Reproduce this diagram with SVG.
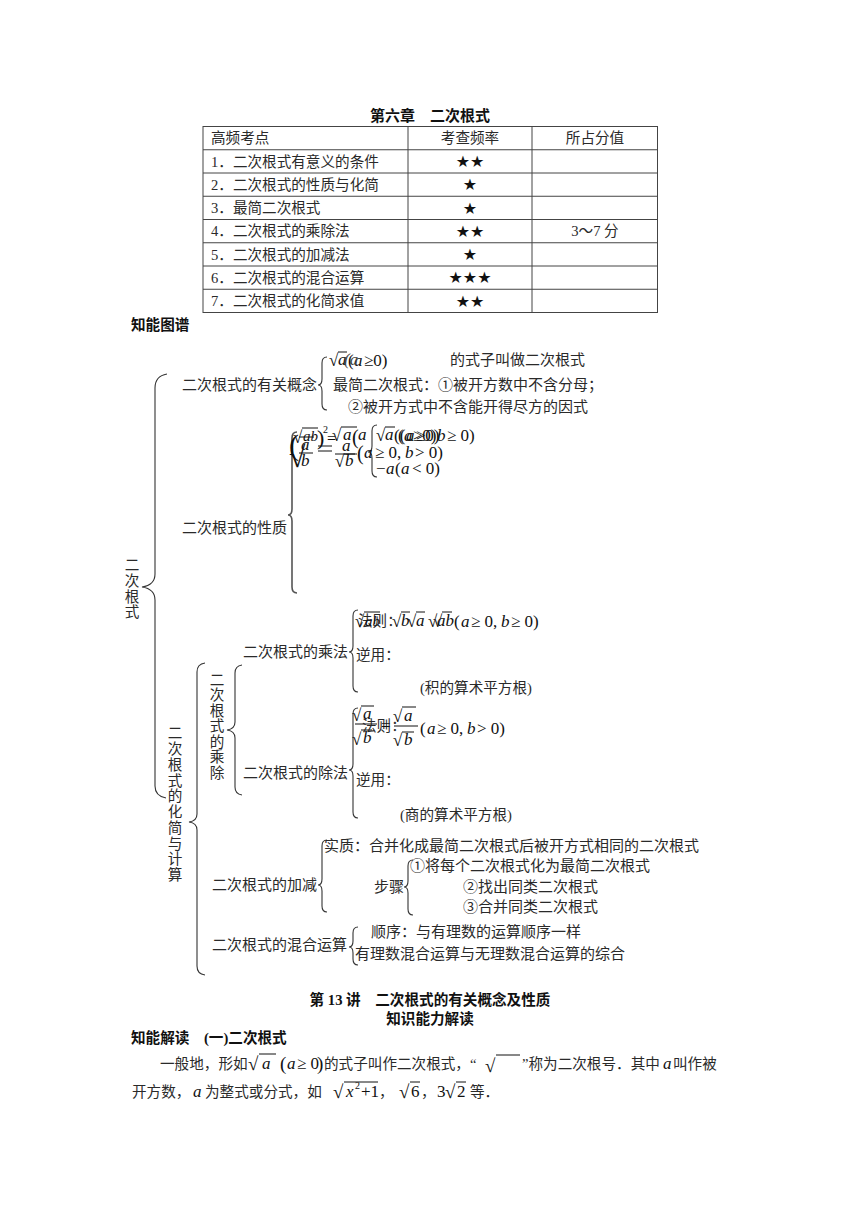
<svg xmlns="http://www.w3.org/2000/svg" width="860" height="1216" viewBox="0 0 860 1216">
<style>
.t{font-family:"Liberation Serif","Noto Sans CJK SC",serif;font-size:14.6px;fill:#2a2a2a}
.c{text-anchor:middle}
.h{font-family:"Liberation Serif","Noto Sans CJK SC",sans-serif;font-size:14.6px;font-weight:bold;fill:#111}
.m{font-family:"Liberation Serif",serif;font-style:italic;font-size:17px;fill:#111}
.n{font-family:"Liberation Serif",serif;font-size:17px;fill:#111}
.s{font-family:"Liberation Serif","DejaVu Sans",serif;font-size:17px;fill:#111}
.star{font-family:"DejaVu Sans","Noto Sans CJK SC",sans-serif;font-size:16px;fill:#111;text-anchor:middle}
.br{fill:none;stroke:#333;stroke-width:1.1}
.bb{fill:none;stroke:#555;stroke-width:1.6}
.ov{stroke:#111;stroke-width:1}
.tl{stroke:#444;stroke-width:1;fill:none}
</style>
<rect width="860" height="1216" fill="#fff"/>

<g id="title"><text class="h c" x="430" y="121" style="font-size:15px">第六章　二次根式</text></g>

<g id="table">
<rect class="tl" x="203" y="126.5" width="454.5" height="186"/>
<g class="tl">
<line x1="203" y1="149.75" x2="657.5" y2="149.75"/>
<line x1="203" y1="173" x2="657.5" y2="173"/>
<line x1="203" y1="196.25" x2="657.5" y2="196.25"/>
<line x1="203" y1="219.5" x2="657.5" y2="219.5"/>
<line x1="203" y1="242.75" x2="657.5" y2="242.75"/>
<line x1="203" y1="266" x2="657.5" y2="266"/>
<line x1="203" y1="289.25" x2="657.5" y2="289.25"/>
<line x1="408" y1="126.5" x2="408" y2="312.5"/>
<line x1="532" y1="126.5" x2="532" y2="312.5"/>
</g>
<text class="t" x="211" y="143">高频考点</text>
<text class="t c" x="470" y="143">考查频率</text>
<text class="t c" x="595" y="143">所占分值</text>
<text class="t" x="211" y="166.5">1．二次根式有意义的条件</text>
<text class="t" x="211" y="189.7">2．二次根式的性质与化简</text>
<text class="t" x="211" y="213">3．最简二次根式</text>
<text class="t" x="211" y="236.2">4．二次根式的乘除法</text>
<text class="t" x="211" y="259.5">5．二次根式的加减法</text>
<text class="t" x="211" y="282.7">6．二次根式的混合运算</text>
<text class="t" x="211" y="306">7．二次根式的化简求值</text>
<text class="star" x="470" y="167">★★</text>
<text class="star" x="470" y="190.2">★</text>
<text class="star" x="470" y="213.5">★</text>
<text class="star" x="470" y="236.7">★★</text>
<text class="star" x="470" y="260">★</text>
<text class="star" x="470" y="283.2">★★★</text>
<text class="star" x="470" y="306.5">★★</text>
<text class="t c" x="595" y="236.2">3～7 分</text>
</g>

<g id="map-heading"><text class="h" x="131" y="330">知能图谱</text></g>

<g id="connectors">
<path class="br" d="M167,374 Q155,376 155,388 L155,574 Q155,585 142,587 Q155,589 155,600 L155,786 Q155,796 166,798"/>
<path class="br" d="M327,357 Q322,357 322,363 L322,379 Q322,385 318,385 Q322,385 322,391 L322,404 Q322,410 327,410"/>
<path class="bb" d="M297,432 Q292,432 292,438 L292,509 Q292,515 288,515 Q292,515 292,521 L292,587 Q292,593 297,593"/>
<path class="br" d="M377,425 Q372,425 372,431 L372,446 Q372,452 368,452 Q372,452 372,458 L372,471 Q372,477 377,477"/>
<path class="br" d="M205,663 Q197,664 197,672 L197,814 Q197,821 189,822 Q197,823 197,830 L197,966 Q197,974 205,975"/>
<path class="br" d="M242,665 Q235,666 235,673 L235,722 Q235,729 227,730 Q235,731 235,738 L235,787 Q235,794 242,795"/>
<path class="br" d="M358,610 Q353,610 353,616 L353,646 Q353,652 349,652 Q353,652 353,658 L353,686 Q353,692 358,692"/>
<path class="br" d="M358,708 Q353,708 353,714 L353,764 Q353,770 349,770 Q353,770 353,776 L353,812 Q353,818 358,818"/>
<path class="br" d="M327,840 Q322,840 322,846 L322,879 Q322,885 318,885 Q322,885 322,891 L322,906 Q322,912 327,912"/>
<path class="br" d="M413,860 Q408,860 408,866 L408,881 Q408,887 404,887 Q408,887 408,893 L408,909 Q408,915 413,915"/>
<path class="br" d="M358,927 Q353,927 353,933 L353,941 Q353,947 349,947 Q353,947 353,953 L353,959 Q353,965 358,965"/>
</g>

<g id="root">
<text class="t c" x="132" y="570">二</text>
<text class="t c" x="132" y="586">次</text>
<text class="t c" x="132" y="602">根</text>
<text class="t c" x="132" y="617">式</text>
</g>

<g id="concept">
<text class="t" x="182" y="390" style="font-size:15px">二次根式的有关概念</text>
<text class="s" x="329" y="366">√</text>
<line class="ov" x1="338" y1="352" x2="347" y2="352"/>
<text class="m" x="338" y="365">a</text>
<text class="n" x="348" y="366">(</text>
<text class="m" x="354" y="366">a</text>
<text class="n" x="364" y="366">≥0)</text>
<text class="m" x="344" y="365" style="fill:#444">(a</text>
<text class="t" x="450" y="365" style="font-size:15px">的式子叫做二次根式</text>
<text class="t" x="333" y="390" style="font-size:15px">最简二次根式：①被开方数中不含分母；</text>
<text class="t" x="348" y="412" style="font-size:15px">②被开方式中不含能开得尽方的因式</text>
</g>

<g id="property">
<text class="t" x="182" y="533" style="font-size:15px">二次根式的性质</text>
<text class="n" x="289" y="455" style="font-size:30px">(</text>
<text class="s" x="293" y="443">√</text>
<line class="ov" x1="302" y1="428" x2="318" y2="428"/>
<text class="m" x="303" y="441" style="font-size:15px">ab</text>
<text class="n" x="317" y="445" style="font-size:22px">)</text>
<text class="n" x="323" y="433" style="font-size:10px">2</text>
<text class="n" x="327" y="444" style="font-size:16px">=</text>
<text class="s" x="332" y="441">√</text>
<line class="ov" x1="341" y1="427" x2="357" y2="427"/>
<text class="m" x="343" y="440">a</text>
<text class="n" x="352" y="444" style="font-size:20px">(</text>
<text class="m" x="358" y="440">a</text>
<text class="s" x="289" y="467" style="font-size:30px">√</text>
<line class="ov" x1="299" y1="437" x2="314" y2="437"/>
<text class="m" x="301" y="450">a</text>
<line class="ov" x1="299" y1="453" x2="313" y2="453"/>
<text class="m" x="301" y="466">b</text>
<line class="ov" x1="318" y1="446" x2="332" y2="446"/>
<line class="ov" x1="318" y1="451" x2="332" y2="451"/>
<text class="m" x="342" y="451">a</text>
<line class="ov" x1="335" y1="454" x2="357" y2="454"/>
<text class="s" x="335" y="467">√</text>
<line class="ov" x1="344" y1="454" x2="355" y2="454"/>
<text class="m" x="345" y="466">b</text>
<text class="n" x="357" y="460" style="font-size:20px">(</text>
<text class="m" x="364" y="458">a</text>
<text class="s" x="376" y="441">√</text>
<line class="ov" x1="385" y1="427" x2="395" y2="427"/>
<text class="m" x="385" y="440">a</text>
<text class="n" x="394" y="441">((</text>
<text class="m" x="404" y="441">a</text>
<text class="n" x="413" y="441">≥0)</text>
<text class="n" x="398" y="441">(</text>
<text class="m" x="406" y="441">a</text>
<text class="n" x="416" y="441">≥0)</text>
<text class="m" x="437" y="441">b</text>
<text class="n" x="447" y="441">≥ 0)</text>
<text class="n" x="375" y="458">≥ 0,</text>
<text class="m" x="405" y="458">b</text>
<text class="n" x="415" y="458">&gt; 0)</text>
<text class="n" x="376" y="474">−</text>
<text class="m" x="386" y="474">a</text>
<text class="n" x="395" y="474">(</text>
<text class="m" x="401" y="474">a</text>
<text class="n" x="412" y="474">&lt; 0)</text>
</g>

<g id="calc">
<text class="t c" x="175" y="738">二</text>
<text class="t c" x="175" y="754">次</text>
<text class="t c" x="175" y="770">根</text>
<text class="t c" x="175" y="786">式</text>
<text class="t c" x="175" y="801">的</text>
<text class="t c" x="175" y="817">化</text>
<text class="t c" x="175" y="833">简</text>
<text class="t c" x="175" y="849">与</text>
<text class="t c" x="175" y="864">计</text>
<text class="t c" x="175" y="880">算</text>
</g>

<g id="muldiv">
<text class="t c" x="217" y="685">二</text>
<text class="t c" x="217" y="700">次</text>
<text class="t c" x="217" y="716">根</text>
<text class="t c" x="217" y="731">式</text>
<text class="t c" x="217" y="747">的</text>
<text class="t c" x="217" y="762">乘</text>
<text class="t c" x="217" y="778">除</text>
</g>

<g id="mul">
<text class="t" x="243" y="657" style="font-size:15px">二次根式的乘法</text>
<text class="t" x="358" y="626">法则：</text>
<text class="s" x="355" y="627">√</text>
<line class="ov" x1="364" y1="612" x2="380" y2="612"/>
<text class="m" x="365" y="626" style="font-size:15px">ab</text>
<text class="s" x="392" y="627">√</text>
<line class="ov" x1="401" y1="612" x2="410" y2="612"/>
<text class="m" x="401" y="626">b</text>
<text class="s" x="407" y="627">√</text>
<line class="ov" x1="416" y1="612" x2="425" y2="612"/>
<text class="m" x="416" y="626">a</text>
<text class="s" x="428" y="627">√</text>
<text class="s" x="433" y="627">√</text>
<line class="ov" x1="442" y1="612" x2="452" y2="612"/>
<text class="m" x="437" y="626">ab</text>
<text class="n" x="454" y="627">(</text>
<text class="m" x="461" y="627">a</text>
<text class="n" x="471" y="627">≥ 0,</text>
<text class="m" x="501" y="627">b</text>
<text class="n" x="511" y="627">≥ 0)</text>
<text class="t" x="356" y="660">逆用：</text>
<text class="t" x="420" y="693">(积的算术平方根)</text>
</g>

<g id="div">
<text class="t" x="243" y="778" style="font-size:15px">二次根式的除法</text>
<text class="s" x="352" y="721">√</text>
<line class="ov" x1="361" y1="706" x2="374" y2="706"/>
<text class="m" x="363" y="719">a</text>
<line class="ov" x1="355" y1="724" x2="377" y2="724"/>
<text class="s" x="352" y="745">√</text>
<line class="ov" x1="361" y1="730" x2="372" y2="730"/>
<text class="m" x="363" y="743">b</text>
<text class="t" x="362" y="731">法则：</text>
<text class="n" x="381" y="731">=</text>
<text class="s" x="393" y="722">√</text>
<line class="ov" x1="402" y1="707" x2="416" y2="707"/>
<text class="m" x="404" y="721">a</text>
<line class="ov" x1="394" y1="726" x2="418" y2="726"/>
<text class="s" x="393" y="746">√</text>
<line class="ov" x1="402" y1="732" x2="414" y2="732"/>
<text class="m" x="404" y="745">b</text>
<text class="n" x="420" y="734">(</text>
<text class="m" x="427" y="734">a</text>
<text class="n" x="437" y="734">≥ 0,</text>
<text class="m" x="467" y="734">b</text>
<text class="n" x="477" y="734">&gt; 0)</text>
<text class="t" x="356" y="785">逆用：</text>
<text class="t" x="400" y="820">(商的算术平方根)</text>
</g>

<g id="addsub">
<text class="t" x="212" y="890" style="font-size:15px">二次根式的加减</text>
<text class="t" x="324" y="851" style="font-size:15px">实质：合并化成最简二次根式后被开方式相同的二次根式</text>
<text class="t" x="374" y="892" style="font-size:15px">步骤</text>
<text class="t" x="410" y="871" style="font-size:15px">①将每个二次根式化为最简二次根式</text>
<text class="t" x="463" y="892" style="font-size:15px">②找出同类二次根式</text>
<text class="t" x="463" y="912" style="font-size:15px">③合并同类二次根式</text>
</g>

<g id="mixed">
<text class="t" x="212" y="950" style="font-size:15px">二次根式的混合运算</text>
<text class="t" x="371" y="937" style="font-size:15px">顺序：与有理数的运算顺序一样</text>
<text class="t" x="355" y="959" style="font-size:15px">有理数混合运算与无理数混合运算的综合</text>
</g>

<g id="section">
<text class="h c" x="430" y="1005">第 13 讲　二次根式的有关概念及性质</text>
<text class="h c" x="430" y="1024">知识能力解读</text>
<text class="h" x="131" y="1043">知能解读　(一)二次根式</text>
<text class="t" x="160" y="1069">一般地，形如</text>
<text class="s" x="248" y="1070" style="font-size:19px">√</text>
<line class="ov" x1="259" y1="1054" x2="276" y2="1054"/>
<text class="m" x="262" y="1069">a</text>
<text class="n" x="280" y="1070" style="font-size:19px">(</text>
<text class="m" x="287" y="1069">a</text>
<text class="n" x="297" y="1069">≥ 0</text>
<text class="n" x="317" y="1070" style="font-size:19px">)</text>
<text class="t" x="324" y="1069">的式子叫作二次根式，“</text>
<text class="s" x="485" y="1072" style="font-size:19px">√</text>
<line class="ov" x1="496" y1="1055" x2="520" y2="1055"/>
<text class="t" x="522" y="1069">”称为二次根号．其中</text>
<text class="m" x="663" y="1069">a</text>
<text class="t" x="673" y="1069">叫作被</text>
<text class="t" x="132" y="1097">开方数，</text>
<text class="m" x="193" y="1097">a</text>
<text class="t" x="205" y="1097">为整式或分式，如</text>
<text class="s" x="333" y="1098" style="font-size:19px">√</text>
<line class="ov" x1="344" y1="1082" x2="378" y2="1082"/>
<text class="m" x="346" y="1097">x</text>
<text class="n" x="355" y="1089" style="font-size:10px">2</text>
<text class="n" x="361" y="1097">+1</text>
<text class="t" x="379" y="1097">，</text>
<text class="s" x="399" y="1098" style="font-size:19px">√</text>
<line class="ov" x1="410" y1="1082" x2="420" y2="1082"/>
<text class="n" x="411" y="1097">6</text>
<text class="t" x="421" y="1097">，</text>
<text class="n" x="437" y="1097">3</text>
<text class="s" x="445" y="1098" style="font-size:19px">√</text>
<line class="ov" x1="456" y1="1082" x2="466" y2="1082"/>
<text class="n" x="457" y="1097">2</text>
<text class="t" x="470" y="1097">等．</text>
</g>
</svg>
